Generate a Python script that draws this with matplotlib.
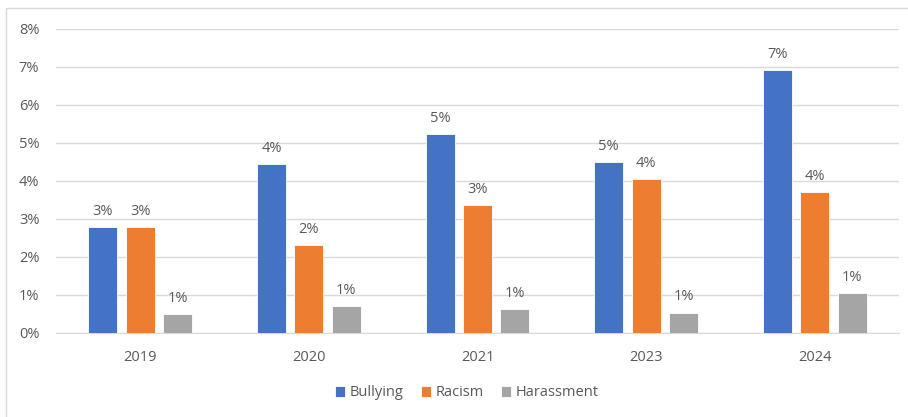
import numpy as np
import matplotlib.pyplot as plt
from matplotlib.patches import Rectangle
from matplotlib.ticker import PercentFormatter

years = ["2019", "2020", "2021", "2023", "2024"]
bullying = [2.78, 4.45, 5.24, 4.50, 6.92]
racism = [2.78, 2.31, 3.37, 4.05, 3.71]
harassment = [0.50, 0.71, 0.63, 0.53, 1.05]

series = [("Bullying", bullying, "#4472C4"),
          ("Racism", racism, "#ED7D31"),
          ("Harassment", harassment, "#A5A5A5")]

plt.rcParams['font.family'] = ['Open Sans', 'DejaVu Sans']
txt = "#595959"

fig = plt.figure(figsize=(9.08, 4.17), dpi=100)
ax = fig.add_axes([56/908, 1 - 333/417, 843/908, 304/417])

# chart border
fig.patches.append(Rectangle((6/908, -0.05), 1.0, 1 - 8/417 + 0.05, transform=fig.transFigure,
                             fill=False, edgecolor="#D9D9D9", linewidth=1))

x = np.arange(len(years))
w = 0.172
step = 0.222
for i, (name, vals, col) in enumerate(series):
    pos = x + (i - 1) * step
    ax.bar(pos, vals, width=w, color=col, label=name, zorder=3,
           edgecolor="white", linewidth=0.6)
    for p, v in zip(pos, vals):
        # excel style rounding (half up)
        ax.text(p, v + 0.22, f"{int(v + 0.5)}%", ha="center", va="bottom",
                fontsize=10.5, color=txt)

ax.set_xlim(-0.5, len(years) - 0.5)
ax.set_ylim(0, 8)
ax.set_yticks(range(0, 9))
ax.yaxis.set_major_formatter(PercentFormatter(decimals=0))
ax.set_xticks(x)
ax.set_xticklabels(years)
ax.grid(axis="y", color="#D9D9D9", linewidth=1, zorder=0)
for s in ["top", "right", "left"]:
    ax.spines[s].set_visible(False)
ax.spines["bottom"].set_color("#D9D9D9")
ax.tick_params(length=0, labelsize=10.5, colors=txt)
ax.tick_params(axis="x", pad=12)
ax.tick_params(axis="y", pad=12)

leg = fig.legend(loc="center", bbox_to_anchor=(0.514, 1 - 393/417), ncol=3, frameon=False,
                 fontsize=10.5, handlelength=0.7, handleheight=0.7, handletextpad=0.3,
                 columnspacing=1.2)
for t in leg.get_texts():
    t.set_color(txt)

plt.savefig("out.png", dpi=100)
